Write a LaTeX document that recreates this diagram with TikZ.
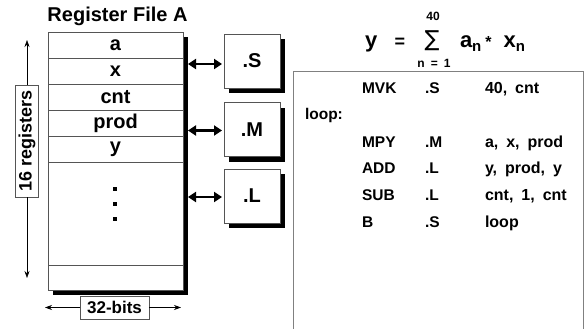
\documentclass[tikz,border=0pt]{standalone}
\usepackage{fontspec}
\setmainfont{Liberation Sans}
\newfontfamily\sumfont{DejaVu Sans}
\usetikzlibrary{arrows.meta,positioning,shadows}
\definecolor{rfLine}{HTML}{555555}
\definecolor{rfFrame}{HTML}{808080}
\newcommand\wideargs{\spaceskip 8pt plus 1pt\relax}

\begin{document}
\begin{tikzpicture}[x=1pt, y=-1pt,
  every node/.style={font=\bfseries, inner sep=0pt, outer sep=0pt},
  regrow/.style={draw=rfLine, line width=0.8pt, fill=white, minimum width=135pt, minimum height=26pt, font=\fontsize{20}{22}\selectfont\bfseries},
  shadowbox/.style={draw=rfLine, line width=0.8pt, fill=white, drop shadow={shadow xshift=5pt, shadow yshift=-5pt, fill=black, opacity=1}},
  unit/.style={shadowbox, minimum width=56pt, minimum height=54pt, font=\fontsize{20}{22}\selectfont\bfseries},
  tag/.style={draw=rfLine, line width=0.8pt, fill=white, minimum height=23pt},
  dimline/.style={-{Stealth[length=7pt,width=5pt]}, line width=0.6pt},
  bus/.style={{Triangle[length=8pt,width=10pt]}-{Triangle[length=8pt,width=10pt]}, line width=2.5pt},
  code/.style={anchor=base west, font=\fontsize{15.5}{18}\selectfont\bfseries},
  args/.style={code, font=\fontsize{16}{18}\selectfont\bfseries\wideargs},
  formula/.style={font=\fontsize{22}{24}\selectfont\bfseries},
  limit/.style={font=\fontsize{12}{14}\selectfont\bfseries},
  dotmark/.style={fill=black, minimum size=4pt},
]
\useasboundingbox (0,0) rectangle (584,329);

% register file
\node[anchor=base, font=\fontsize{20}{22}\selectfont\bfseries] (title) at (117.5,22) {Register File A};
\node[shadowbox, minimum width=135pt, minimum height=258pt] (regfile) at (115.5,161) {};
\node[regrow] (ra) at (115.5,45) {a};
\node[regrow, below=0pt of ra] (rx) {x};
\node[regrow, below=0pt of rx] (rcnt) {cnt};
\node[regrow, below=0pt of rcnt] (rprod) {prod};
\node[regrow, below=0pt of rprod] (ry) {y};
\node[regrow, below=0pt of ry, minimum height=103pt] (rdots) {};
\node[regrow, below=0pt of rdots, minimum height=25pt] (rlast) {};
\node[dotmark] (dot1) at (115,189) {};
\node[dotmark] (dot2) at (115,204) {};
\node[dotmark] (dot3) at (115,219) {};

% sizes
\node[tag, rotate=90, minimum width=112pt, font=\fontsize{18}{20}\selectfont\bfseries] (regs) at (27,141) {16 registers};
\coordinate (regtop) at (27,40);
\coordinate (regbot) at (27,278);
\draw[dimline] (regs.east) -- (regtop);
\draw[dimline] (regs.west) -- (regbot);
\node[tag, minimum width=69pt, font=\fontsize{17}{19}\selectfont\bfseries] (bits) at (114.5,307.5) {32-bits};
\coordinate (bitsl) at (45,307.5);
\coordinate (bitsr) at (181,307.5);
\draw[dimline] (bits.west) -- (bitsl);
\draw[dimline] (bits.east) -- (bitsr);

% functional units
\node[unit] (S) at (252,61) {.S};
\node[unit] (M) at (252,129.5) {.M};
\node[unit] (L) at (252,196) {.L};
\coordinate (sport) at ([yshift=-3pt]S.west);
\coordinate (mport) at ([yshift=-1pt]M.west);
\coordinate (lport) at ([yshift=-1pt]L.west);
\draw[bus, shorten <=5pt, shorten >=2pt] (regfile.east |- sport) -- (sport);
\draw[bus, shorten <=5pt, shorten >=2pt] (regfile.east |- mport) -- (mport);
\draw[bus, shorten <=5pt, shorten >=2pt] (regfile.east |- lport) -- (lport);

% sum
\node[formula, anchor=base west] (fy) at (365,48) {y};
\node[anchor=base, font=\fontsize{18}{20}\selectfont\bfseries] (feq) at (400,48) {=};
\node[font=\sumfont\mdseries\fontsize{22}{24}\selectfont] (fsum) at (432,41) {∑};
\node[limit] (fup) at (433,16) {40};
\node[limit] (flow) at (434,63) {n\enspace=\enspace1};
\node[formula, anchor=base west] (fterm) at (460,48) {a\raisebox{-4pt}{\fontsize{15}{15}\selectfont n}\hspace{4pt}{\fontsize{16}{16}\selectfont *}\hspace{12pt}x\raisebox{-4pt}{\fontsize{15}{15}\selectfont n}};

% code listing
\node[draw=rfFrame, line width=1pt, minimum width=290pt, minimum height=270pt] (codebox) at (438,207) {};
\node[code] (mvk) at (362,93) {MVK};
\node[code] (mvku) at (425,93) {.S};
\node[args] (mvko) at (485,93) {40, cnt};
\node[code] (loop) at (305,120) {loop:};
\node[code] (mpy) at (362,147) {MPY};
\node[code] (mpyu) at (425,147) {.M};
\node[args] (mpyo) at (485,147) {a, x, prod};
\node[code] (add) at (362,173) {ADD};
\node[code] (addu) at (425,173) {.L};
\node[args] (addo) at (485,173) {y, prod, y};
\node[code] (sub) at (362,200) {SUB};
\node[code] (subu) at (425,200) {.L};
\node[args] (subo) at (485,200) {cnt, 1, cnt};
\node[code] (br) at (362,227) {B};
\node[code] (bru) at (425,227) {.S};
\node[args] (bro) at (485,227) {loop};
\end{tikzpicture}
\end{document}
